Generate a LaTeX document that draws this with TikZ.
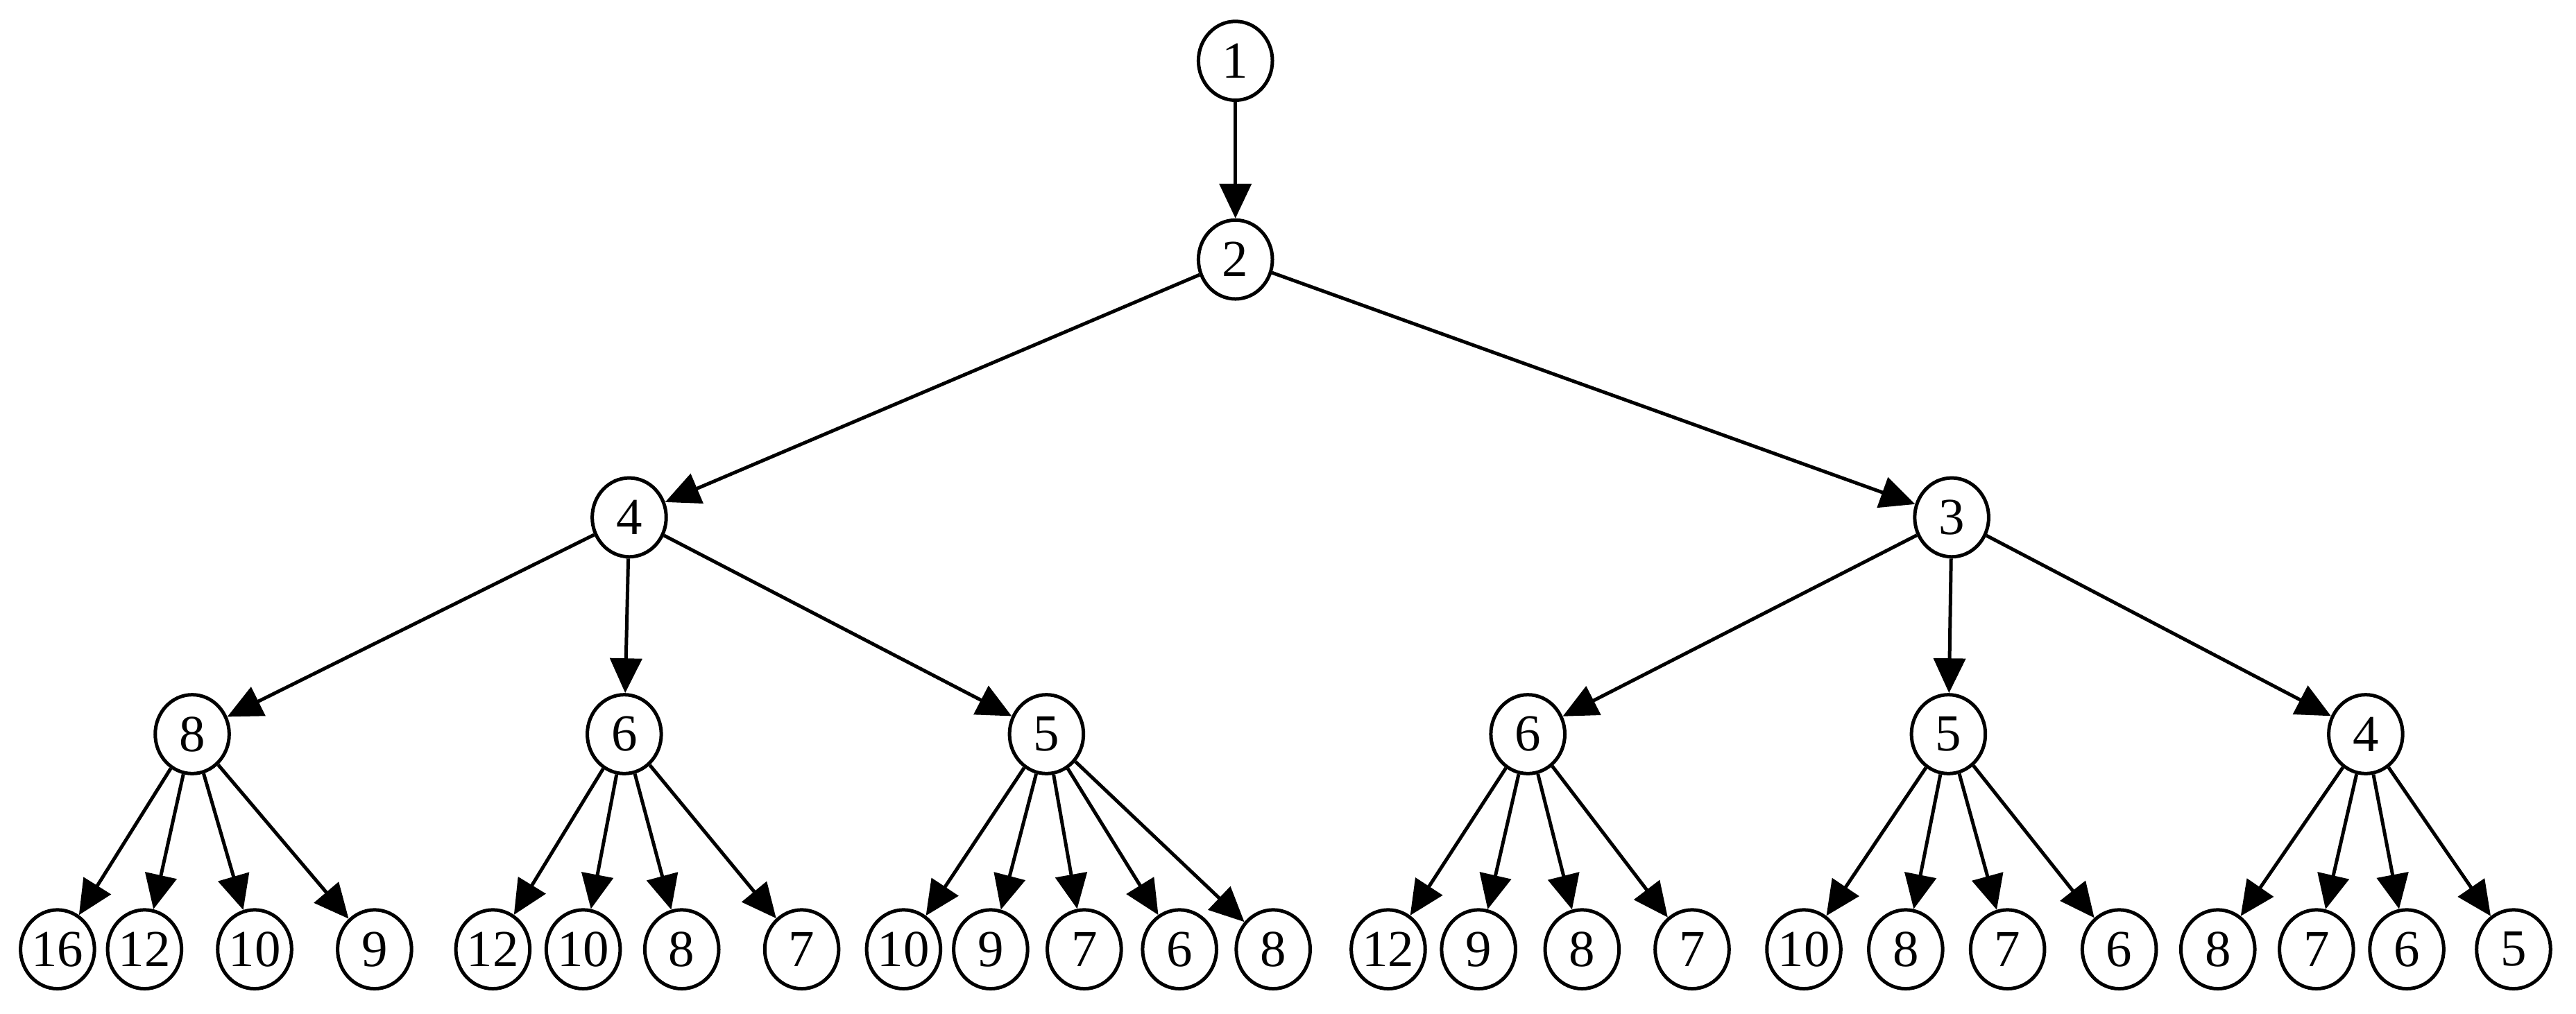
\documentclass[tikz,border=0pt]{standalone}
\usepackage{fontspec}
\setmainfont{Liberation Serif}
\usetikzlibrary{arrows.meta,shapes.geometric}
\begin{document}
\begin{tikzpicture}[x=0.01cm,y=-0.01cm,
  nd/.style={draw,ellipse,line width=0.6pt,minimum width=0.45cm,minimum height=0.48cm,inner sep=0pt,font=\fontsize{9}{10}\selectfont},
  ed/.style={-{Triangle[length=6pt,width=5.5pt]},line width=0.6pt}]
\useasboundingbox (0,0) rectangle (1568,617);
\node[nd] (a) at (752,37) {1};
\node[nd] (b) at (752,158) {2};
\node[nd] (c) at (383,315) {4};
\node[nd] (d) at (1188,315) {3};
\node[nd] (e1) at (117,447) {8};
\node[nd] (e2) at (380,447) {6};
\node[nd] (e3) at (637,447) {5};
\node[nd] (e4) at (930,447) {6};
\node[nd] (e5) at (1186,447) {5};
\node[nd] (e6) at (1440,447) {4};
\draw[ed] (a)--(b);
\draw[ed] (b)--(c); \draw[ed] (b)--(d);
\foreach \t in {e1,e2,e3} \draw[ed] (c)--(\t);
\foreach \t in {e4,e5,e6} \draw[ed] (d)--(\t);
\foreach \p/\x/\l [count=\i] in {
 e1/35/16,e1/88/12,e1/155/10,e1/228/9,
 e2/300/12,e2/355/10,e2/415/8,e2/488/7,
 e3/550/10,e3/603/9,e3/660/7,e3/718/6,e3/775/8,
 e4/845/12,e4/900/9,e4/963/8,e4/1030/7,
 e5/1098/10,e5/1160/8,e5/1222/7,e5/1290/6,
 e6/1350/8,e6/1410/7,e6/1465/6,e6/1530/5}{
  \node[nd] (l\i) at (\x,578) {\l};
  \draw[ed] (\p)--(l\i);
}
\end{tikzpicture}
\end{document}
